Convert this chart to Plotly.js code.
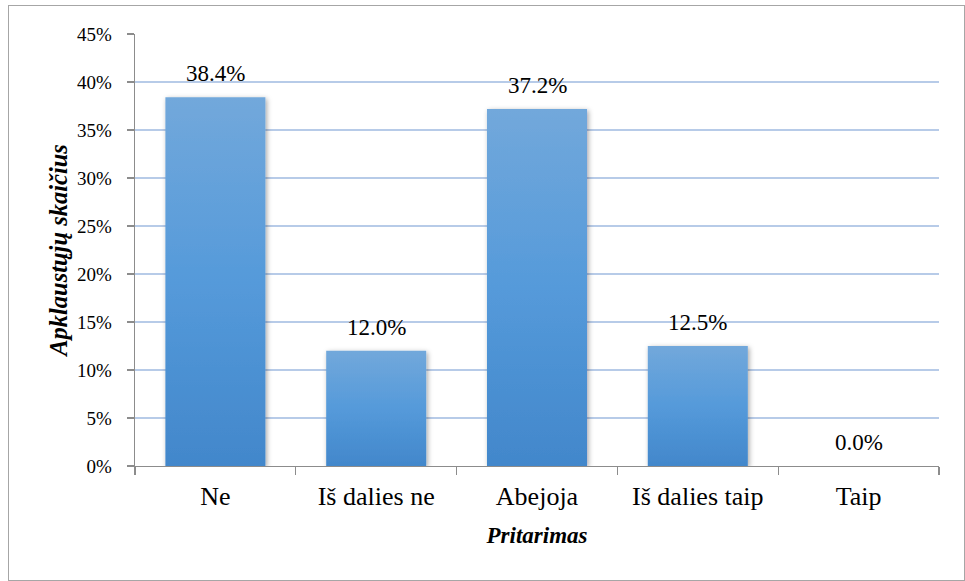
<!DOCTYPE html>
<html>
<head>
<meta charset="utf-8">
<script src="https://cdn.plot.ly/plotly-3.0.1.min.js"></script>
<style>
  html, body { margin: 0; padding: 0; background: #fff; }
  #wrap { position: relative; width: 965px; height: 581px; }
  #chart { width: 965px; height: 581px; }
  #frame { position: absolute; left: 8px; top: 5px; width: 955px; height: 574px;
           border: 1px solid #a6a6a6; pointer-events: none; }
</style>
</head>
<body>
<div id="wrap">
  <div id="chart"></div>
  <div id="frame"></div>
</div>
<script>
const categories = ["Ne", "Iš dalies ne", "Abejoja", "Iš dalies taip", "Taip"];
const values = [38.4, 12.0, 37.2, 12.5, 0.0];
const labels = ["38.4%", "12.0%", "37.2%", "12.5%", "0.0%"];
const yTickValues = [0, 5, 10, 15, 20, 25, 30, 35, 40, 45];
const yTickLabels = ["0%", "5%", "10%", "15%", "20%", "25%", "30%", "35%", "40%", "45%"];

const serif = "Liberation Serif";

const trace = {
  type: "bar",
  x: categories,
  y: values,
  marker: { color: "#5a99d5", line: { width: 0 } },
  hoverinfo: "none"
};

const annotations = categories.map((c, i) => ({
  x: c, y: values[i], xref: "x", yref: "y",
  text: labels[i], showarrow: false,
  yanchor: "bottom", yshift: 9,
  font: { family: serif, size: 23, color: "#000" }
}));

const layout = {
  width: 965, height: 581,
  margin: { l: 135, r: 26, t: 34, b: 114.5 },
  paper_bgcolor: "#fff", plot_bgcolor: "#fff",
  showlegend: false,
  bargap: 0.378,
  font: { family: serif, color: "#000" },
  xaxis: {
    type: "category",
    showline: true, linecolor: "#8c8c8c", linewidth: 1.3,
    ticks: "outside", tickson: "boundaries", ticklen: 8, tickcolor: "#8c8c8c", tickwidth: 1.3,
    showgrid: false, zeroline: false,
    tickfont: { family: serif, size: 26, color: "#000" },
    ticklabelstandoff: 6,
    title: { text: "<b><i>Pritarimas</i></b>", font: { family: serif, size: 23, color: "#000" }, standoff: 17 }
  },
  yaxis: {
    range: [0, 45],
    tickvals: yTickValues, ticktext: yTickLabels,
    showline: true, linecolor: "#8c8c8c", linewidth: 1.3,
    ticks: "outside", ticklen: 7, tickcolor: "#8c8c8c", tickwidth: 1.3,
    showgrid: true, gridcolor: "#b7cbe8", gridwidth: 1.2,
    zeroline: false,
    tickfont: { family: serif, size: 19, color: "#000" },
    ticklabelstandoff: 11,
    title: { text: "<b><i>Apklaustųjų skaičius</i></b>", font: { family: serif, size: 24.5, color: "#000" }, standoff: 2 }
  },
  annotations: annotations
};

Plotly.newPlot("chart", [trace], layout, { staticPlot: true, displayModeBar: false }).then(gd => {
  const svg = gd.querySelector("svg.main-svg");
  const NS = "http://www.w3.org/2000/svg";
  let defs = svg.querySelector("defs");
  if (!defs) { defs = document.createElementNS(NS, "defs"); svg.insertBefore(defs, svg.firstChild); }
  const grad = document.createElementNS(NS, "linearGradient");
  grad.setAttribute("id", "barGrad");
  grad.setAttribute("x1", "0"); grad.setAttribute("y1", "0");
  grad.setAttribute("x2", "0"); grad.setAttribute("y2", "1");
  [["0%", "#72a8db"], ["50%", "#559ada"], ["100%", "#4287cb"]].forEach(([o, c]) => {
    const s = document.createElementNS(NS, "stop");
    s.setAttribute("offset", o); s.setAttribute("stop-color", c);
    grad.appendChild(s);
  });
  defs.appendChild(grad);
  const filt = document.createElementNS(NS, "filter");
  filt.setAttribute("id", "barShadow");
  filt.setAttribute("x", "-20%"); filt.setAttribute("y", "-10%");
  filt.setAttribute("width", "140%"); filt.setAttribute("height", "130%");
  const ds = document.createElementNS(NS, "feDropShadow");
  ds.setAttribute("dx", "1.5"); ds.setAttribute("dy", "1.5");
  ds.setAttribute("stdDeviation", "2.5");
  ds.setAttribute("flood-color", "#000"); ds.setAttribute("flood-opacity", "0.35");
  filt.appendChild(ds);
  defs.appendChild(filt);
  gd.querySelectorAll(".trace.bars .point path").forEach(p => {
    p.style.fill = "url(#barGrad)";
    p.setAttribute("filter", "url(#barShadow)");
  });
});
</script>
</body>
</html>
